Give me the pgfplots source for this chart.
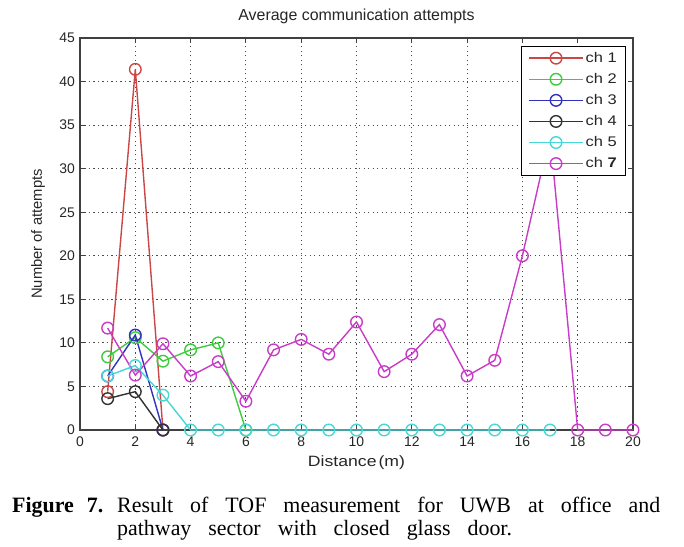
\documentclass[border=0pt]{standalone}
\usepackage{pgfplots}
\pgfplotsset{compat=1.18}
\usepackage{fontspec}
\setmainfont{Liberation Sans}
\newfontfamily\widefont{Liberation Sans}[FakeStretch=1.18]
\newfontfamily\capfont{Liberation Serif}
\definecolor{c1}{RGB}{205,70,70}
\definecolor{c2}{RGB}{60,205,60}
\definecolor{c3}{RGB}{50,50,190}
\definecolor{c4}{RGB}{50,50,50}
\definecolor{c5}{RGB}{70,215,215}
\definecolor{c7}{RGB}{200,60,200}
\begin{document}
\begin{tikzpicture}
\useasboundingbox (-80bp,-117bp) rectangle (604bp,430bp);
\begin{axis}[
  at={(0,0)}, anchor=south west,
  scale only axis, width=553bp, height=392bp,
  xmin=0, xmax=20, ymin=0, ymax=45,
  xtick={0,2,...,20}, ytick={0,5,...,45},
  grid=major,
  major grid style={dash pattern=on 1.2bp off 3.3bp, line width=1bp, black!70},
  tick align=inside, tick pos=both, major tick length=5bp,
  axis line style={line width=1.1bp, black!75},
  tick style={black!75, line width=0.9bp},
  /pgf/number format/assume math mode=true,
  every tick label/.append style={font=\fontsize{14}{14}\selectfont, text=black!85},
  xticklabel style={anchor=north, inner sep=0pt, yshift=-7bp},
  yticklabel style={anchor=east, inner sep=0pt, xshift=-5bp},
  title={Average communication attempts},
  title style={at={(axis description cs:0.5,1.029)}, anchor=base, inner sep=0pt, font=\fontsize{16}{16}\selectfont, text=black!85},
  xlabel={Distance\hspace{2bp}(m)},
  xlabel style={at={(axis description cs:0.5,-0.083)}, anchor=center, inner sep=0pt, font=\widefont\fontsize{15}{15}\selectfont, text=black!85},
  ylabel={Number of attempts},
  ylabel style={at={(axis description cs:-0.076,0.5)}, anchor=center, inner sep=0pt, font=\fontsize{14.8}{14.8}\selectfont, text=black!85},
  every axis plot/.append style={line width=1.4bp, mark=o, mark size=5.8bp, mark options={solid}},
  legend style={at={(0.987,0.98)}, anchor=north east, font=\widefont\fontsize{14}{16}\selectfont, line width=1.1bp, row sep=5.5bp, inner xsep=6.5bp, inner ysep=4bp, text=black!85},
  legend cell align=left,
  legend image code/.code={\draw[mark repeat=2, mark phase=2, line width=1.4bp] plot coordinates {(0cm,0cm) (0.95cm,0cm) (1.9cm,0cm)};},
]
\addplot[c1] coordinates {(1,4.4) (2,41.4) (3,0)};
\addlegendentry{ch 1}
\addplot[c2] coordinates {(1,8.4) (2,10.6) (3,7.9) (4,9.2) (5,10.0) (6,0)};
\addlegendentry{ch 2}
\addplot[c3] coordinates {(1,6.2) (2,10.9) (3,0)};
\addlegendentry{ch 3}
\addplot[c4] coordinates {(1,3.6) (2,4.4) (3,0)};
\addlegendentry{ch 4}
\addplot[c5] coordinates {(1,6.2) (2,7.4) (3,4.0) (4,0) (5,0) (6,0) (7,0) (8,0) (9,0) (10,0) (11,0) (12,0) (13,0) (14,0) (15,0) (16,0) (17,0)};
\addlegendentry{ch 5}
\addplot[c7] coordinates {(1,11.7) (2,6.3) (3,9.9) (4,6.2) (5,7.85) (6,3.3) (7,9.2) (8,10.4) (9,8.7) (10,12.4) (11,6.7) (12,8.7) (13,12.1) (14,6.2) (15,8.0) (16,20.0) (17,34) (18,0) (19,0) (20,0)};
\addlegendentry{ch \textbf{7}}
\end{axis}
\node[anchor=base west, inner sep=0pt, font=\capfont\fontsize{22}{22}\selectfont] at (-68bp,-82.7bp) {\textbf{Figure\hspace{13bp}7.}};
\node[anchor=base west, inner sep=0pt, font=\capfont\fontsize{22}{22}\selectfont] at (37bp,-82.7bp) {\spaceskip=17bp\relax Result of TOF measurement for UWB at office and};
\node[anchor=base west, inner sep=0pt, font=\capfont\fontsize{22}{22}\selectfont] at (37bp,-105bp) {\spaceskip=17bp\relax pathway sector with closed glass door.};
\end{tikzpicture}
\end{document}
